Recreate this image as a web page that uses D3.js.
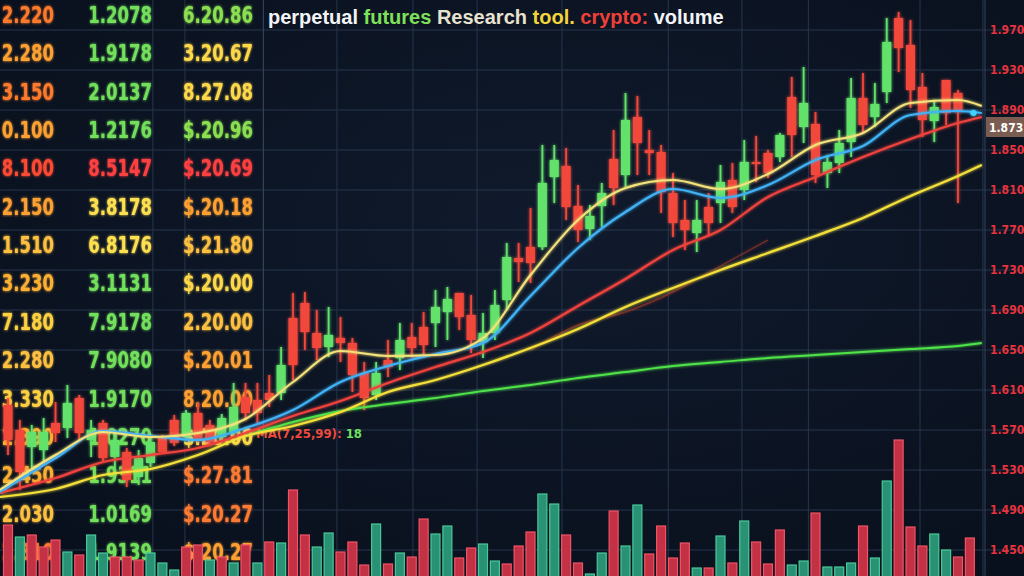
<!DOCTYPE html>
<html>
<head>
<meta charset="utf-8">
<script src="https://cdn.jsdelivr.net/npm/d3@7/dist/d3.min.js"></script>
<style>
html, body { margin: 0; padding: 0; background: #0b1321; overflow: hidden; }
svg { display: block; }
</style>
</head>
<body>
<div id="chart"></div>
<script>
// Candles: [open, high, low, close]
const candles = [
  [1.595,1.602,1.545,1.560],[1.570,1.580,1.510,1.528],[1.553,1.575,1.532,1.568],[1.550,1.582,1.537,1.568],
  [1.577,1.598,1.558,1.567],[1.572,1.615,1.562,1.597],[1.602,1.605,1.560,1.567],[1.560,1.580,1.543,1.570],
  [1.577,1.580,1.538,1.542],[1.543,1.570,1.530,1.560],[1.548,1.552,1.513,1.520],[1.523,1.550,1.515,1.542],
  [1.537,1.565,1.533,1.558],[1.562,1.565,1.547,1.548],[1.580,1.585,1.554,1.557],[1.563,1.590,1.560,1.587],
  [1.587,1.597,1.558,1.560],[1.575,1.580,1.555,1.558],[1.563,1.586,1.560,1.582],[1.567,1.617,1.565,1.593],
  [1.603,1.617,1.580,1.587],[1.600,1.617,1.577,1.587],[1.607,1.625,1.593,1.600],[1.607,1.653,1.600,1.635],
  [1.682,1.707,1.620,1.635],[1.697,1.708,1.650,1.668],[1.667,1.690,1.640,1.652],[1.653,1.693,1.643,1.665],
  [1.662,1.683,1.638,1.657],[1.657,1.662,1.608,1.625],[1.627,1.638,1.590,1.602],[1.605,1.638,1.600,1.627],
  [1.640,1.660,1.623,1.633],[1.642,1.677,1.630,1.660],[1.663,1.677,1.643,1.652],[1.673,1.688,1.645,1.655],
  [1.677,1.710,1.653,1.693],[1.688,1.713,1.660,1.701],[1.707,1.707,1.670,1.683],[1.685,1.705,1.647,1.660],
  [1.658,1.687,1.642,1.667],[1.667,1.710,1.660,1.695],[1.700,1.757,1.690,1.743],[1.742,1.757,1.718,1.738],
  [1.753,1.792,1.717,1.737],[1.753,1.855,1.750,1.817],[1.823,1.855,1.797,1.840],[1.834,1.852,1.780,1.793],
  [1.794,1.815,1.758,1.770],[1.771,1.795,1.760,1.784],[1.794,1.817,1.773,1.807],[1.841,1.870,1.795,1.812],
  [1.825,1.907,1.813,1.880],[1.883,1.904,1.825,1.857],[1.850,1.870,1.825,1.847],[1.848,1.855,1.787,1.808],
  [1.807,1.827,1.763,1.777],[1.780,1.800,1.750,1.770],[1.767,1.800,1.748,1.780],[1.793,1.807,1.765,1.777],
  [1.797,1.835,1.777,1.818],[1.820,1.837,1.787,1.793],[1.810,1.860,1.800,1.838],[1.838,1.864,1.818,1.837],
  [1.847,1.850,1.822,1.827],[1.843,1.867,1.838,1.865],[1.903,1.923,1.843,1.865],[1.873,1.933,1.857,1.897],
  [1.876,1.888,1.817,1.825],[1.827,1.845,1.812,1.838],[1.837,1.870,1.827,1.857],[1.858,1.922,1.843,1.902],
  [1.902,1.927,1.867,1.875],[1.883,1.917,1.873,1.896],[1.908,1.982,1.897,1.958],[1.982,1.988,1.928,1.952],
  [1.955,1.980,1.892,1.910],[1.913,1.927,1.863,1.880],[1.879,1.900,1.858,1.893],[1.920,1.920,1.875,1.887],
  [1.907,1.910,1.797,1.888]
];

// Volume per candle slot, and its colour (1 = up / green)
const volumeValues = [510,390,410,290,360,240,210,410,230,190, 190,160,230,130,60,290,310,160,190,130,
  310,130,340,330,860,410,290,430,240,340, 110,520,120,230,190,570,420,500,180,280,
  320,150,120,300,440,820,720,410,130,20, 230,650,300,710,220,500,180,330,80,80,
  400,130,550,340,120,460,110,150,630,90, 90,130,500,180,950,1360,490,300,420,260, 190,380];
const volumeUp = [0,1,0,0,0,1,0,1,1,0, 0,0,1,1,1,0,0,1,0,1, 0,1,0,1,0,0,1,1,0,0,
  0,1,0,1,0,0,1,1,0,0, 1,1,0,0,0,1,1,0,0,1, 1,0,1,1,0,0,0,0,1,0,
  1,0,1,0,0,0,1,1,0,1, 1,1,0,1,1,0,0,0,1,1, 0,0];

// Moving-average lines, read at these candle positions
const maIdx = [-0.7,4,8,12,16,20,24,28,32,36,40,44,48,52,56,60,64,68,72,76,80,82];
const maFast = [1.510,1.545,1.568,1.563,1.567,1.581,1.618,1.649,1.644,1.645,1.662,1.725,1.780,1.812,1.820,1.811,1.826,1.855,1.867,1.897,1.900,1.894];
const maBlue = [1.508,1.542,1.569,1.564,1.560,1.572,1.590,1.618,1.634,1.646,1.657,1.704,1.752,1.788,1.811,1.802,1.815,1.840,1.854,1.885,1.889,1.887];
const maRed = [1.507,1.522,1.538,1.545,1.552,1.567,1.584,1.599,1.617,1.633,1.648,1.667,1.694,1.721,1.750,1.770,1.803,1.823,1.843,1.861,1.877,1.883];
const maSlow = [1.503,1.511,1.525,1.531,1.545,1.564,1.574,1.588,1.608,1.620,1.635,1.652,1.671,1.693,1.712,1.730,1.747,1.764,1.782,1.804,1.824,1.835];
const maGreen = [null,null,null,null,null,1.564,1.578,1.589,1.596,1.602,1.609,1.615,1.622,1.628,1.634,1.638,1.642,1.645,1.648,1.651,1.654,1.657];
const maDark = [null,null,null,null,null,null,null,null,null,null,null,1.650,1.675,1.688,1.708,1.734,1.760,null,null,null,null,null];

// Axis ticks
const priceTicks = [1.97,1.93,1.89,1.85,1.81,1.77,1.73,1.69,1.65,1.61,1.57,1.53,1.49,1.45];
const timeGrid = [12.2,14.9,21.5,27.7,34.1,39.5,46.65,55.6,61.8,67.4,76.8,82.1];
const currentPrice = 1.873;

// Quote table on the left
const tableCol1 = ["2.220","2.280","3.150","0.100","8.100","2.150","1.510","3.230","7.180","2.280","3.330","2.390","2.450","2.030","2.310"];
const tableCol2 = ["1.2078","1.9178","2.0137","1.2176","8.5147","3.8178","6.8176","3.1131","7.9178","7.9080","1.9170","1.0270","1.9311","1.0169","1.9139"];
const tableCol3 = ["6.20.86","3.20.67","8.27.08","$.20.96","$.20.69","$.20.18","$.21.80","$.20.00","2.20.00","$.20.01","8.20.00","$.20.00","$.27.81","$.20.27","$.20.27"];
const tableColor1 = ["#ff7a2a","#ffa030","#ff7a2a","#ffa030","#ff4a30","#ffa030","#ffc040","#ffb030","#ffd040","#ffc040","#ffd040","#ffb030","#ffb030","#ffc040","#ff7a2a"];
const tableColor2 = ["#72e05a","#72e05a","#72e05a","#72e05a","#ff4040","#ffe050","#ffe050","#72e05a","#72e05a","#72e05a","#72e05a","#72e05a","#72e05a","#72e05a","#72e05a"];
const tableColor3 = ["#8ae050","#ffd84a","#ffd84a","#8ae050","#ff4040","#ffa030","#ffc040","#ffd84a","#ffc040","#ffa030","#ffa030","#ffd84a","#ff7a30","#ff7a30","#ffa030"];

const titleWords = [
  { t: "perpetual ", c: "#f2f4f8" },
  { t: "futures ", c: "#7fe05a" },
  { t: "Research ", c: "#e8e2d0" },
  { t: "tool. ", c: "#f2d43a" },
  { t: "crypto: ", c: "#ef4038" },
  { t: "volume", c: "#f2f4f8" }
];

const width = 1024, height = 576;
const up = "#62e26a", down = "#f2473b";

const svg = d3.select("#chart").append("svg")
  .attr("width", width).attr("height", height);

const defs = svg.append("defs");
const glow = defs.append("filter").attr("id", "glow")
  .attr("x", "-50%").attr("y", "-50%").attr("width", "200%").attr("height", "200%");
glow.append("feGaussianBlur").attr("stdDeviation", 1.6).attr("result", "b");
const merge = glow.append("feMerge");
merge.append("feMergeNode").attr("in", "b");
merge.append("feMergeNode").attr("in", "SourceGraphic");

const bg = defs.append("radialGradient").attr("id", "bg").attr("cx", "55%").attr("cy", "40%").attr("r", "80%");
bg.append("stop").attr("offset", "0%").attr("stop-color", "#101a2c");
bg.append("stop").attr("offset", "100%").attr("stop-color", "#080f1b");

svg.append("rect").attr("width", width).attr("height", height).attr("fill", "url(#bg)");

// Scales
const x = d3.scaleLinear().domain([0, 80]).range([8, 958]);
const y = d3.scaleLinear().domain([1.424, 2.0]).range([576, 0]);
const yVol = d3.scaleLinear().domain([0, 1500]).range([576, 426]);
const row = d3.scaleLinear().domain([0, 14]).range([15, 552]);

// Grid
const grid = svg.append("g").attr("class", "grid");
grid.selectAll(".h").data(priceTicks).enter().append("line")
  .attr("x1", 0).attr("x2", width)
  .attr("y1", d => y(d)).attr("y2", d => y(d))
  .attr("stroke", "#26364c").attr("stroke-width", 1);
grid.selectAll(".v").data(timeGrid).enter().append("line")
  .attr("x1", d => x(d)).attr("x2", d => x(d))
  .attr("y1", 0).attr("y2", height)
  .attr("stroke", (d, i) => i === 2 ? "#3a4b63" : "#26364c").attr("stroke-width", 1);

// Quote table (condensed horizontally)
[[tableCol1, tableColor1, 54], [tableCol2, tableColor2, 152], [tableCol3, tableColor3, 253]].forEach(([col, colors, cx]) => {
  const g = svg.append("g")
    .attr("transform", `translate(${cx},0) scale(0.8,1)`)
    .attr("font-family", "'DejaVu Sans Condensed','Liberation Sans',sans-serif")
    .attr("font-size", 23).attr("font-weight", "bold").attr("text-anchor", "end")
    .attr("filter", "url(#glow)");
  g.selectAll("text").data(col).enter().append("text")
    .attr("x", 0).attr("y", (d, i) => row(i) + 8)
    .attr("fill", (d, i) => colors[i])
    .text(d => d);
});

// Title
const title = svg.append("text")
  .attr("x", 268).attr("y", 24)
  .attr("font-family", "'Liberation Sans',Arial,sans-serif")
  .attr("font-size", 20).attr("font-weight", "bold");
title.selectAll("tspan").data(titleWords).enter().append("tspan")
  .attr("fill", d => d.c).text(d => d.t);

// Volume bars
svg.append("g").selectAll("rect").data(volumeValues).enter().append("rect")
  .attr("x", (d, i) => x(i) - 4.5).attr("width", 9)
  .attr("y", d => yVol(d)).attr("height", d => height - yVol(d) + 2)
  .attr("fill", (d, i) => volumeUp[i] ? "#2a9274" : "#c23144")
  .attr("stroke", (d, i) => volumeUp[i] ? "#48c898" : "#f05466")
  .attr("stroke-width", 1.2);

// small indicator label
const ind = svg.append("text").attr("x", 256).attr("y", 438)
  .attr("font-family", "'DejaVu Sans Condensed',sans-serif")
  .attr("font-size", 13).attr("font-weight", "bold");
ind.append("tspan").attr("fill", "#ef4a3a").text("MA(7,25,99): ");
ind.append("tspan").attr("fill", "#6ee060").text("18");

// Candles
const cg = svg.append("g").attr("filter", "url(#glow)");
const candle = cg.selectAll("g").data(candles).enter().append("g");
candle.append("line")
  .attr("x1", (d, i) => x(i)).attr("x2", (d, i) => x(i))
  .attr("y1", d => y(d[1])).attr("y2", d => y(d[2]))
  .attr("stroke", d => d[3] >= d[0] ? up : down).attr("stroke-width", 1.8);
candle.append("rect")
  .attr("x", (d, i) => x(i) - 4.5).attr("width", 9)
  .attr("y", d => y(Math.max(d[0], d[3])))
  .attr("height", d => Math.max(2, Math.abs(y(d[0]) - y(d[3]))))
  .attr("fill", d => d[3] >= d[0] ? up : down);

// MA lines
const maLine = vals => d3.line()
  .defined((d, i) => vals[i] !== null)
  .x((d, i) => x(maIdx[i]))
  .y((d, i) => y(vals[i]))
  .curve(d3.curveMonotoneX)(vals);

const lines = svg.append("g").attr("fill", "none").attr("filter", "url(#glow)");
[[maGreen, "#4fe24a", 2, 1], [maDark, "#a8392c", 1.4, 0.6], [maSlow, "#f4e03a", 2.2, 1],
 [maRed, "#f0433c", 2.2, 1], [maBlue, "#3fb2f5", 2.2, 1], [maFast, "#f3e27a", 2, 1]].forEach(([vals, c, w, o]) => {
  lines.append("path").attr("d", maLine(vals)).attr("stroke", c)
    .attr("stroke-width", w).attr("stroke-opacity", o);
});
svg.append("circle").attr("cx", x(81.3)).attr("cy", y(maBlue[maBlue.length - 1]))
  .attr("r", 3).attr("fill", "#3fd2ff").attr("filter", "url(#glow)");

// Right price axis
svg.append("line").attr("x1", 985).attr("x2", 985).attr("y1", 0).attr("y2", height)
  .attr("stroke", "#33445c");
const axis = svg.append("g").attr("transform", "translate(985,0)")
  .call(d3.axisRight(y).tickValues(priceTicks).tickFormat(d3.format(".3f")).tickSize(0).tickPadding(5));
axis.select(".domain").remove();
axis.selectAll("text")
  .attr("fill", "#e8323c")
  .attr("font-family", "'DejaVu Sans Condensed','Liberation Sans',sans-serif")
  .attr("font-size", 12).attr("font-weight", "bold");

// Current price tag
svg.append("rect").attr("x", 986).attr("y", y(currentPrice) - 10).attr("width", 40).attr("height", 20)
  .attr("fill", "#7a5c50");
svg.append("text").attr("x", 989).attr("y", y(currentPrice) + 5)
  .attr("fill", "#ffffff").attr("font-family", "'DejaVu Sans Condensed',sans-serif")
  .attr("font-size", 12).attr("font-weight", "bold")
  .text(d3.format(".3f")(currentPrice));
</script>
</body>
</html>
